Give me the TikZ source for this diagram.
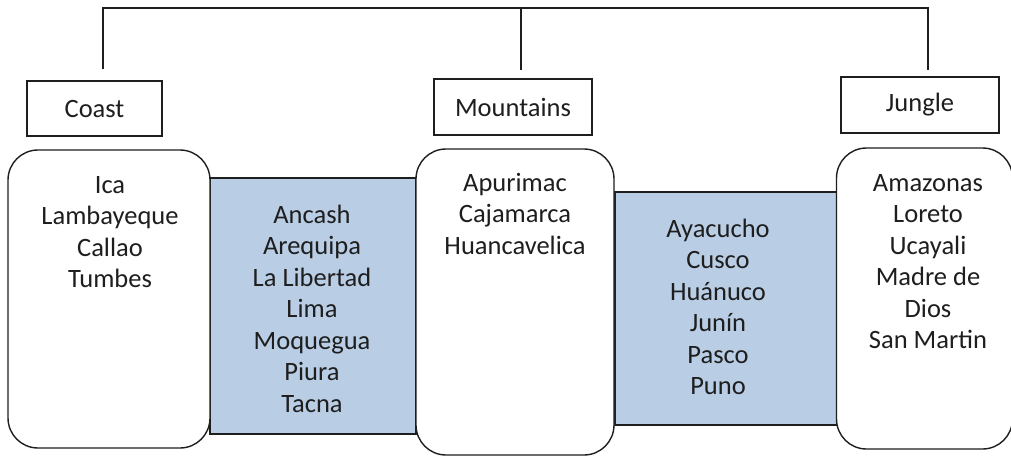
\documentclass[tikz,border=0pt]{standalone}
\usepackage{fontspec}
\setmainfont{Carlito}
\definecolor{lightblue}{HTML}{B9CDE5}
\definecolor{ink}{HTML}{1E1E1E}
\begin{document}
\begin{tikzpicture}[x=1pt,y=-1pt,
  every node/.style={inner sep=0pt, outer sep=0pt},
  hdr/.style={draw=ink, line width=1.4pt, rectangle, fill=white, font=\fontsize{26.5}{31.5}\selectfont, text=ink},
  region/.style={draw=ink, line width=1.4pt, rectangle, rounded corners=30pt, fill=white},
  band/.style={draw=ink, line width=1.4pt, rectangle, fill=lightblue},
  listtext/.style={anchor=north, font=\fontsize{26.5}{31.5}\selectfont, text=ink},
  link/.style={draw=ink, line width=1.4pt}]
\useasboundingbox (0,0) rectangle (1011,456);

% blue bands (behind the rounded boxes)
\node[band, minimum width=206pt, minimum height=256pt] (b1) at (313,306) {};
\node[band, minimum width=222pt, minimum height=233pt] (b2) at (726,308.5) {};

% rounded region boxes
\node[region, minimum width=202pt, minimum height=298pt] (coastR) at (109,299) {};
\node[region, minimum width=198pt, minimum height=306pt] (mountR) at (515,302) {};
\node[region, minimum width=176pt, minimum height=301pt] (jungleR) at (924.5,298.5) {};

% header boxes
\node[hdr, minimum width=135pt, minimum height=55pt] (coast) at (94.5,108.5) {Coast};
\node[hdr, minimum width=158pt, minimum height=56pt] (mount) at (513,107) {Mountains};
\node[hdr, minimum width=158pt, minimum height=56pt] (jungle) at (920,105) {Jungle};

% lists
\node[listtext] (tCoast) at (110,171) {\parbox[t]{200pt}{\centering\strut Ica\\Lambayeque\\Callao\\Tumbes}};
\node[listtext] (tB1) at (312,201) {\parbox[t]{200pt}{\centering\strut Ancash\\Arequipa\\La Libertad\\Lima\\Moquegua\\Piura\\Tacna}};
\node[listtext] (tMount) at (515,169) {\parbox[t]{196pt}{\centering\strut Apurimac\\Cajamarca\\Huancavelica}};
\node[listtext] (tB2) at (718,215) {\parbox[t]{200pt}{\centering\strut Ayacucho\\Cusco\\Huánuco\\Junín\\Pasco\\Puno}};
\node[listtext] (tJungle) at (928,169) {\parbox[t]{170pt}{\centering\strut Amazonas\\Loreto\\Ucayali\\Madre de\\Dios\\San Martin}};

% connector
\coordinate (cC) at ([xshift=8.5pt, yshift=12pt]coast.north);
\coordinate (cM) at ([xshift=8pt, yshift=9pt]mount.north);
\coordinate (cJ) at ([xshift=8pt, yshift=7pt]jungle.north);
\coordinate (topline) at (0,8);
\draw[link] (cC) -- (cC |- topline) -- (cJ |- topline) -- (cJ);
\draw[link] (cM) -- (cM |- topline);
\end{tikzpicture}
\end{document}
